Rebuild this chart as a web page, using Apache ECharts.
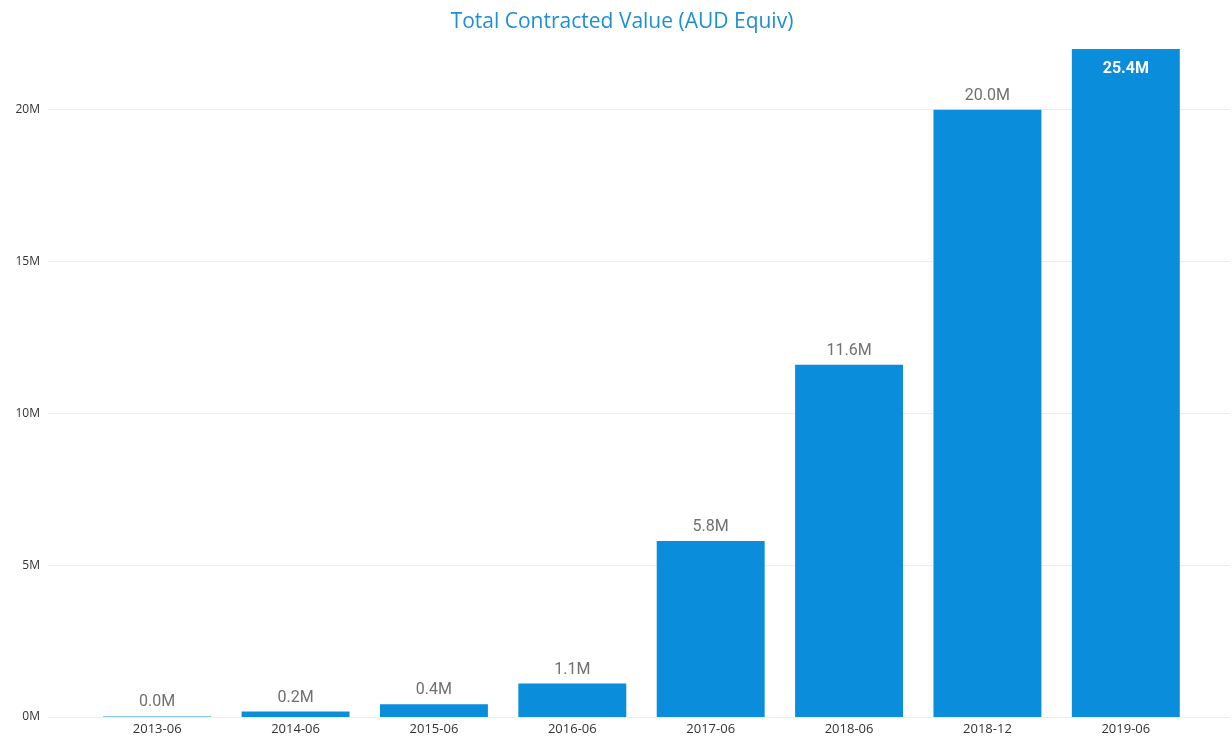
<!DOCTYPE html>
<html>
<head>
<meta charset="utf-8">
<script src="https://cdn.jsdelivr.net/npm/echarts@6/dist/echarts.min.js"></script>
<style>html,body{margin:0;padding:0;background:#fff;}#c{width:1232px;height:740px;}</style>
</head>
<body>
<div id="c"></div>
<script>
const categories = ['2013-06','2014-06','2015-06','2016-06','2017-06','2018-06','2018-12','2019-06'];
const values = [0.02, 0.18, 0.42, 1.1, 5.8, 11.6, 20.0, 25.4];
const yTicks = [0, 5, 10, 15, 20];
const yMax = 22;

const chart = echarts.init(document.getElementById('c'));
const barColor = '#0a8ddb';
chart.setOption({
  animation: false,
  title: {
    text: 'Total Contracted Value (AUD Equiv)',
    left: 617, textAlign: 'center', top: 7,
    textStyle: { color: '#1c8fd6', fontSize: 21, fontWeight: 'normal', fontFamily: 'Open Sans' }
  },
  grid: [
    { left: 48, right: 2, top: 49, bottom: 23 },
    { left: 88, right: 37, top: 49, bottom: 23 }
  ],
  xAxis: [
    { gridIndex: 0, type: 'category', data: categories, show: false },
    { gridIndex: 1, type: 'category', data: categories,
      axisLine: { show: false }, axisTick: { show: false },
      axisLabel: { color: '#333', fontSize: 13, fontFamily: 'Open Sans', margin: 6 } }
  ],
  yAxis: [
    { gridIndex: 0, type: 'value', min: 0, max: yMax, interval: 5,
      axisLine: { show: false }, axisTick: { show: false },
      splitLine: { showMaxLine: false, lineStyle: { color: '#ececec', width: 1 } },
      axisLabel: { color: '#333', fontSize: 12, fontFamily: 'Open Sans', margin: 8, showMaxLabel: false,
        formatter: v => yTicks.includes(v) ? v + 'M' : '' } },
    { gridIndex: 1, type: 'value', min: 0, max: yMax, show: false }
  ],
  series: [{
    type: 'bar',
    xAxisIndex: 1, yAxisIndex: 1,
    barWidth: '78%',
    clip: true,
    itemStyle: { color: barColor },
    label: {
      show: true, position: 'top', distance: 6,
      color: '#707070', fontSize: 16, fontFamily: 'Roboto',
      formatter: p => values[p.dataIndex].toFixed(1) + 'M'
    },
    data: values.map((v, i) => v > yMax ? {
      value: v,
      label: { position: 'insideTop', color: '#ffffff', fontWeight: 'bold', distance: 12 }
    } : v)
  }]
});
</script>
</body>
</html>
